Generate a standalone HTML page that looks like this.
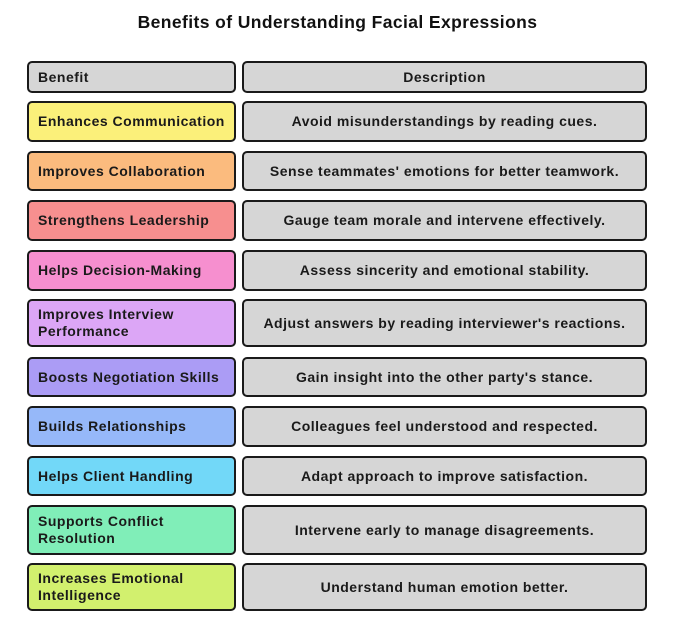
<!DOCTYPE html>
<html><head><meta charset="utf-8"><style>
body{margin:0;width:675px;height:634px;background:#fff;font-family:"Liberation Sans",sans-serif;position:relative;overflow:hidden}
.t{position:absolute;left:0;width:675px;top:12px;text-align:center;font-weight:bold;font-size:17.5px;letter-spacing:0.4px;color:#111}
.b{position:absolute;box-sizing:border-box;border:2.5px solid #1a1a1a;border-radius:5px;font-weight:bold;font-size:14px;letter-spacing:0.5px;color:#1a1a1a;display:flex;align-items:center;line-height:17px;white-space:nowrap}
.l{left:27px;width:209px;padding-left:9px;padding-right:4px}
.r{left:242px;width:405px;justify-content:center;text-align:center;background:#d6d6d6}
</style></head><body>
<div class="t">Benefits of Understanding Facial Expressions</div>
<div class="b l" style="top:61px;height:32px;background:#d6d6d6">Benefit</div>
<div class="b r" style="top:61px;height:32px">Description</div>

<div class="b l" style="top:101px;height:41px;background:#fbf07a">Enhances Communication</div>
<div class="b r" style="top:101px;height:41px">Avoid misunderstandings by reading cues.</div>

<div class="b l" style="top:151px;height:40px;background:#fbbb7e">Improves Collaboration</div>
<div class="b r" style="top:151px;height:40px">Sense teammates' emotions for better teamwork.</div>

<div class="b l" style="top:200px;height:41px;background:#f78f8f">Strengthens Leadership</div>
<div class="b r" style="top:200px;height:41px">Gauge team morale and intervene effectively.</div>

<div class="b l" style="top:250px;height:41px;background:#f68fcf">Helps Decision-Making</div>
<div class="b r" style="top:250px;height:41px">Assess sincerity and emotional stability.</div>

<div class="b l" style="top:299px;height:48px;background:#dca6f6">Improves Interview<br>Performance</div>
<div class="b r" style="top:299px;height:48px">Adjust answers by reading interviewer's reactions.</div>

<div class="b l" style="top:357px;height:40px;background:#ab9cf5">Boosts Negotiation Skills</div>
<div class="b r" style="top:357px;height:40px">Gain insight into the other party's stance.</div>

<div class="b l" style="top:406px;height:41px;background:#96b8f9">Builds Relationships</div>
<div class="b r" style="top:406px;height:41px">Colleagues feel understood and respected.</div>

<div class="b l" style="top:456px;height:40px;background:#72d8f8">Helps Client Handling</div>
<div class="b r" style="top:456px;height:40px">Adapt approach to improve satisfaction.</div>

<div class="b l" style="top:505px;height:50px;background:#80eeb8">Supports Conflict<br>Resolution</div>
<div class="b r" style="top:505px;height:50px">Intervene early to manage disagreements.</div>

<div class="b l" style="top:563px;height:48px;background:#d2f06e">Increases Emotional<br>Intelligence</div>
<div class="b r" style="top:563px;height:48px">Understand human emotion better.</div>
</body></html>
